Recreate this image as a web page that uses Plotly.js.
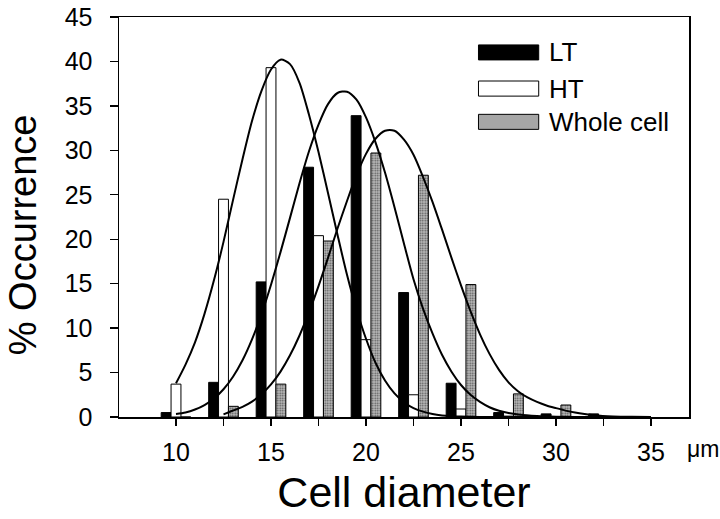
<!DOCTYPE html>
<html>
<head>
<meta charset="utf-8">
<script src="https://cdn.plot.ly/plotly-3.0.1.min.js"></script>
<style>html,body{margin:0;padding:0;background:#fff;}#chart{width:720px;height:519px;}</style>
</head>
<body>
<div id="chart"></div>
<script>
// bin centres (µm)
var binCenters = [10, 12.5, 15, 17.5, 20, 22.5, 25, 27.5, 30, 32.5];
// % occurrence per bin
var ltValues    = [0.5, 3.9, 15.2, 28.1, 33.9, 14.0, 3.8, 0.5, 0.35, 0.35];
var htValues    = [3.7, 24.5, 39.3, 20.4, 8.7, 2.5, 0.9, 0.1, 0.05, 0];
var wholeValues = [0, 1.2, 3.7, 19.8, 29.7, 27.2, 14.9, 2.6, 1.35, 0];

// fitted curves
var htCurveX = [10, 10.5, 11, 11.5, 12, 12.5, 13, 13.5, 14, 14.5, 15, 15.5, 16, 16.5, 17, 17.5, 18, 18.5, 19, 19.5, 20, 20.5, 21, 21.5, 22, 22.5, 23, 23.5, 24, 25, 26, 28, 30, 35];
var htCurveY = [3.8, 5.9, 8.4, 11.6, 15.4, 19.7, 24.4, 29.0, 33.3, 36.7, 39.1, 40.2, 39.7, 37.6, 34.0, 29.8, 25.2, 20.5, 16.0, 12.1, 8.8, 6.1, 4.1, 2.65, 1.65, 1.0, 0.6, 0.33, 0.18, 0.05, 0.01, 0, 0, 0];

var ltCurveX = [10, 10.5, 11, 11.5, 12, 12.5, 13, 13.5, 14, 14.5, 15, 15.5, 16, 16.5, 17, 17.5, 18, 18.5, 19, 19.5, 20, 20.5, 21, 21.5, 22, 22.5, 23, 23.5, 24, 24.5, 25, 25.5, 26, 26.5, 27, 27.5, 28, 29, 30, 35];
var ltCurveY = [0.35, 0.51, 0.84, 1.34, 2.08, 3.12, 4.53, 6.38, 8.73, 11.57, 14.88, 18.55, 22.4, 26.3, 29.9, 32.9, 35.2, 36.45, 36.6, 35.7, 33.7, 30.9, 27.5, 23.6, 19.5, 15.5, 12.2, 9.4, 7.0, 5.1, 3.6, 2.5, 1.7, 1.1, 0.7, 0.45, 0.28, 0.1, 0.03, 0];

var wholeCurveX = [12.5, 13, 13.5, 14, 14.5, 15, 15.5, 16, 16.5, 17, 17.5, 18, 18.5, 19, 19.5, 20, 20.5, 21, 21.5, 22, 22.5, 23, 23.5, 24, 24.5, 25, 25.5, 26, 26.5, 27, 27.5, 28, 28.5, 29, 29.5, 30, 30.5, 31, 31.5, 32, 33, 34, 35];
var wholeCurveY = [0.3, 0.73, 1.14, 1.73, 2.55, 3.66, 5.11, 6.94, 9.17, 11.79, 14.73, 17.9, 21.2, 24.3, 27.2, 29.6, 31.3, 32.2, 32.2, 31.2, 29.5, 27.0, 24.2, 21.1, 17.9, 14.8, 11.9, 9.3, 7.1, 5.3, 3.9, 2.9, 2.2, 1.7, 1.3, 1.0, 0.72, 0.5, 0.33, 0.2, 0.07, 0.02, 0];

// axis ticks
var xTickVals = [10, 12.5, 15, 17.5, 20, 22.5, 25, 27.5, 30, 32.5, 35];
var xTickText = ["10", "", "15", "", "20", "", "25", "", "30", "", "35"];
var yTickVals = [0, 5, 10, 15, 20, 25, 30, 35, 40, 45];

var seriesNames = ["LT", "HT", "Whole cell"];
var xTitle = "Cell diameter";
var yTitle = "% Occurrence";
var unitLabel = "\u03bcm";

var FONT = "Liberation Sans, Arial, Helvetica, sans-serif";
var BW = 0.52;

var traces = [
  {type: "bar", name: seriesNames[0], x: binCenters, y: ltValues, width: BW, offset: -0.78,
   marker: {color: "#000", line: {color: "#000", width: 1}}, showlegend: false},
  {type: "bar", name: seriesNames[1], x: binCenters, y: htValues, width: BW, offset: -0.26,
   marker: {color: "#fff", line: {color: "#000", width: 1}}, showlegend: false},
  {type: "bar", name: seriesNames[2], x: binCenters, y: wholeValues, width: BW, offset: 0.26,
   marker: {color: "#a6a6a6", line: {color: "#000", width: 1},
            pattern: {shape: ".", bgcolor: "#bdbdbd", fgcolor: "#555", size: 2.5, solidity: 0.4}},
   showlegend: false},
  {type: "scatter", mode: "lines", x: htCurveX, y: htCurveY, line: {color: "#000", width: 2, shape: "spline", smoothing: 0.8}, showlegend: false, hoverinfo: "skip"},
  {type: "scatter", mode: "lines", x: ltCurveX, y: ltCurveY, line: {color: "#000", width: 2, shape: "spline", smoothing: 0.8}, showlegend: false, hoverinfo: "skip"},
  {type: "scatter", mode: "lines", x: wholeCurveX, y: wholeCurveY, line: {color: "#000", width: 2, shape: "spline", smoothing: 0.8}, showlegend: false, hoverinfo: "skip"}
];

// hand-drawn legend (wide swatches, as in the original)
var legFills = ["#000", "#fff", "#a6a6a6"];
var legY = [[40.17, 41.86], [36.1, 37.8], [32.36, 34.05]];
var shapes = [];
var annotations = [];
for (var i = 0; i < 3; i++) {
  shapes.push({type: "rect", xref: "x", yref: "y", x0: 25.92, x1: 29.09, y0: legY[i][0], y1: legY[i][1],
               fillcolor: legFills[i], line: {color: "#000", width: 1}, layer: "above"});
  annotations.push({xref: "x", yref: "y", x: 29.55, y: (legY[i][0] + legY[i][1]) / 2, xanchor: "left", yanchor: "middle",
                    text: seriesNames[i], showarrow: false, font: {family: FONT, size: 26, color: "#000"}});
}
annotations.push({xref: "paper", yref: "paper", x: 0.993, y: -0.081, xanchor: "left", yanchor: "middle",
                  text: unitLabel, showarrow: false, font: {family: FONT, size: 23, color: "#000"}});
// y-axis title, placed as in the original (slightly below the axis centre)
annotations.push({xref: "paper", yref: "paper", x: -0.168, y: 0.455, xanchor: "center", yanchor: "middle",
                  textangle: -90, text: yTitle, showarrow: false, font: {family: FONT, size: 38, color: "#000"}});

var layout = {
  width: 720, height: 519,
  margin: {l: 119, r: 31, t: 17, b: 102},
  paper_bgcolor: "#fff", plot_bgcolor: "#fff",
  barmode: "overlay",
  font: {family: FONT, color: "#000"},
  xaxis: {
    range: [7, 37], tickmode: "array", tickvals: xTickVals, ticktext: xTickText,
    ticks: "outside", ticklen: 7, tickwidth: 1.3, tickcolor: "#000",
    showline: true, linecolor: "#000", linewidth: 1.5, mirror: true,
    showgrid: false, zeroline: false,
    tickfont: {family: FONT, size: 25, color: "#000"}, ticklabelstandoff: 5,
    title: {text: xTitle, font: {family: FONT, size: 43, color: "#000"}, standoff: 12}
  },
  yaxis: {
    range: [0, 45], tickmode: "array", tickvals: yTickVals,
    ticks: "outside", ticklen: 8, tickwidth: 1.3, tickcolor: "#000",
    showline: true, linecolor: "#000", linewidth: 1.5, mirror: true,
    showgrid: false, zeroline: false,
    tickfont: {family: FONT, size: 25, color: "#000"}, ticklabelstandoff: 12
  },
  shapes: shapes,
  annotations: annotations,
  showlegend: false
};

Plotly.newPlot("chart", traces, layout, {displayModeBar: false, staticPlot: true});
</script>
</body>
</html>
